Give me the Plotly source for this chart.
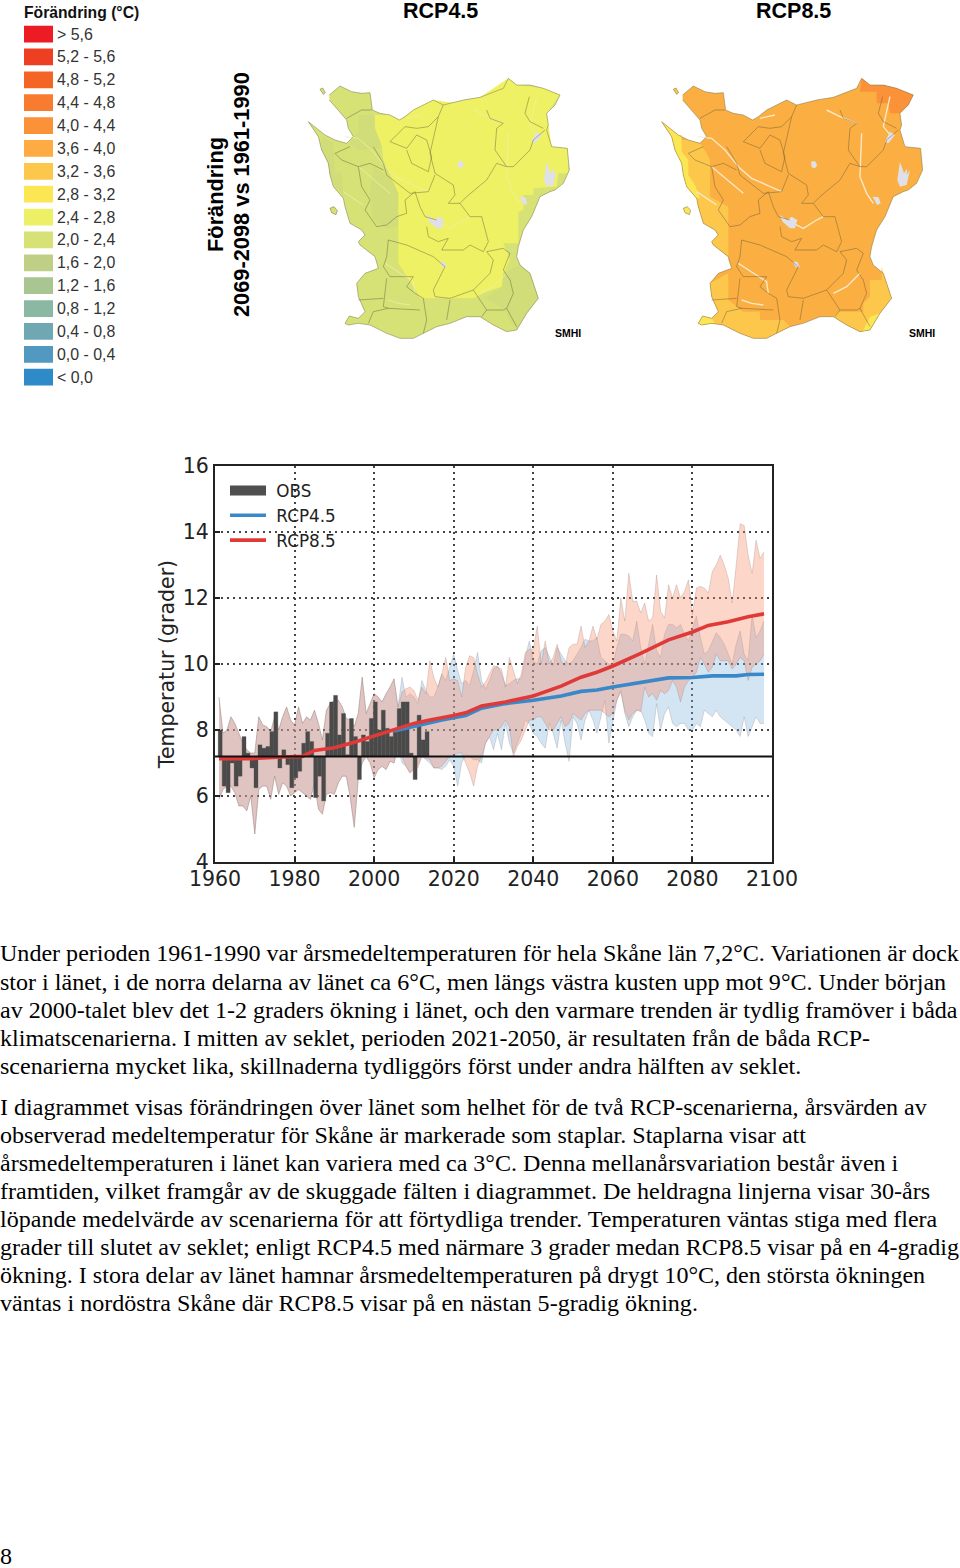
import plotly.graph_objects as go

W, H = 960, 1568

# ---------- colour legend ----------
scale_labels = ["> 5,6", "5,2 - 5,6", "4,8 - 5,2", "4,4 - 4,8", "4,0 - 4,4", "3,6 - 4,0", "3,2 - 3,6", "2,8 - 3,2",
                "2,4 - 2,8", "2,0 - 2,4", "1,6 - 2,0", "1,2 - 1,6", "0,8 - 1,2", "0,4 - 0,8", "0,0 - 0,4", "< 0,0"]
scale_colors = ["#ed1b23", "#ee3f22", "#f46425", "#f97b30", "#fb9138", "#fdab42", "#fdc74c", "#fce654",
                "#edf066", "#d6e176", "#bfd086", "#a9c591", "#8ab8a3", "#6fa7b3", "#5299c2", "#2e8bc7"]

# ---------- time series ----------
obs_values = [8.0, 6.3, 6.1, 7.0, 6.3, 6.6, 7.8, 7.3, 6.85, 6.25, 7.55, 7.45, 7.5, 7.95, 8.55, 6.85, 7.4, 6.95,
              6.25, 6.55, 6.75, 7.6, 7.95, 7.65, 5.95, 6.6, 5.85, 7.9, 8.85, 9.05, 7.85, 8.5, 7.25, 8.35, 7.8,
              6.5, 7.85, 7.65, 8.35, 8.85, 8.0, 8.6, 8.05, 7.8, 7.95, 8.65, 8.85, 8.85, 7.3, 6.5, 8.45, 7.7, 7.95]
hist_upper = [9.0, 7.9, 8.0, 8.4, 8.2, 7.9, 7.6, 7.4, 7.3, 7.3, 8.4, 8.15, 8.1, 7.95, 8.4, 8.0, 8.4, 8.7, 8.3, 8.15,
              8.7, 8.2, 8.4, 8.3, 8.6, 8.2, 7.7, 8.6, 8.8, 8.9, 8.9, 8.7, 8.35, 8.3, 8.1, 8.5, 9.6, 8.5, 8.8, 9.1,
              9.0, 8.85, 9.1, 9.3, 9.55, 8.7]
hist_lower = [5.9, 6.2, 6.3, 6.3, 6.1, 5.7, 5.7, 5.55, 6.0, 4.85, 6.2, 6.3, 6.3, 5.9, 6.6, 6.05, 6.4, 6.3, 6.0, 6.1,
              6.2, 6.1, 6.0, 5.9, 6.4, 5.6, 5.45, 6.05, 6.1, 6.05, 6.4, 6.6, 6.6, 5.95, 5.05, 6.5, 7.0, 7.2, 7.0,
              6.55, 6.8, 6.9, 6.8, 7.05, 7.0, 7.5]
rcp85_upper_future = [9.15, 9.25, 9.3, 9.2, 8.9, 9.3, 9.1, 10.1, 9.6, 9.3, 9.7, 10.2, 9.5, 9.55, 9.5, 9.0, 9.9, 10.25,
                      10.2, 9.7, 9.3, 9.45, 9.7, 9.95, 9.9, 9.85, 9.3, 10.2, 9.8, 9.4, 9.7, 10.35, 10.45, 10.45, 11.15,
                      10.0, 10.7, 10.0, 10.2, 10.6, 10.1, 9.95, 10.5, 10.6, 10.6, 11.15, 10.5, 10.7, 11.15, 10.75,
                      11.2, 11.3, 11.5, 11.0, 10.7, 12.0, 11.3, 12.75, 11.9, 11.9, 11.55, 11.85, 11.3, 11.4, 12.7,
                      11.6, 11.4, 12.4, 12.0, 12.4, 12.0, 12.2, 12.55, 11.5, 12.3, 12.35, 12.3, 12.15, 12.8, 13.0,
                      13.3, 13.0, 12.6, 11.85, 13.0, 14.25, 14.2, 13.3, 12.75, 13.75, 13.2, 13.4]
rcp85_lower_future = [7.2, 6.9, 6.7, 6.8, 6.85, 7.2, 7.15, 7.1, 6.85, 6.85, 6.9, 7.05, 7.2, 7.25, 7.3, 7.3, 7.0, 6.7,
                      6.3, 6.9, 7.2, 7.6, 7.8, 8.0, 8.0, 8.1, 8.3, 8.1, 7.2, 7.5, 7.7, 8.0, 8.3, 8.3, 8.4, 8.4, 8.2,
                      8.0, 8.0, 8.2, 8.4, 8.1, 8.2, 8.5, 8.4, 8.3, 8.5, 8.6, 8.6, 8.6, 8.6, 8.5, 8.4, 8.5, 8.9, 9.15,
                      8.6, 8.3, 8.5, 8.6, 8.55, 9.3, 9.0, 9.1, 8.9, 9.2, 9.1, 9.2, 9.5, 9.3, 8.85, 9.3, 9.5, 9.6, 9.75,
                      10.2, 10.0, 9.75, 9.9, 10.3, 10.1, 10.1, 10.1, 9.85, 10.0, 10.2, 10.1, 9.5, 9.9, 10.0, 10.1, 10.3]
rcp45_upper_future = [9.6, 9.0, 9.1, 9.0, 8.8, 9.5, 9.2, 9.0, 9.0, 9.3, 9.7, 9.5, 9.9, 10.3, 9.8, 9.4, 9.5, 9.35, 9.8,
                      10.35, 9.5, 9.25, 9.5, 9.85, 9.95, 9.7, 9.35, 9.4, 9.5, 9.55, 9.55, 10.2, 10.7, 10.1, 10.0, 10.4,
                      10.5, 10.2, 9.95, 10.5, 10.3, 10.1, 10.0, 10.1, 10.3, 10.5, 10.75, 10.7, 10.7, 10.8, 10.2, 10.1,
                      10.0, 10.0, 10.5, 10.9, 10.9, 10.85, 10.7, 11.3, 10.5, 10.0, 10.6, 11.2, 10.4, 10.2, 10.9, 11.2,
                      11.2, 11.1, 11.2, 10.9, 10.7, 11.1, 11.45, 10.8, 10.3, 10.4, 10.7, 10.95, 10.8, 10.6, 10.3, 10.0,
                      10.6, 11.0, 10.3, 10.1, 11.5, 10.8, 11.0, 11.3]
rcp45_lower_future = [7.0, 6.9, 6.7, 6.85, 6.95, 7.2, 7.1, 7.0, 6.85, 6.85, 6.8, 6.9, 7.1, 6.9, 6.3, 7.0, 7.25, 7.2, 7.1,
                      7.1, 7.0, 7.6, 7.8, 7.4, 7.9, 7.4, 8.2, 7.6, 7.3, 7.6, 7.9, 8.3, 8.2, 7.9, 7.8, 7.6, 7.45, 8.2,
                      7.9, 7.45, 8.3, 7.6, 7.05, 8.4, 8.2, 7.7, 8.3, 8.6, 8.3, 7.9, 8.4, 8.9, 7.6, 8.2, 8.9, 9.2, 8.5,
                      8.1, 8.4, 8.6, 8.6, 8.3, 7.9, 7.8, 8.8, 8.0, 8.5, 8.7, 8.2, 8.1, 8.2, 8.2, 8.0, 8.0, 8.2, 8.1,
                      8.6, 8.5, 8.4, 8.6, 8.4, 8.3, 8.2, 8.1, 8.0, 7.8, 8.4, 7.8, 8.1, 8.4, 8.2, 8.2]
rcp85_mean_years = [1961, 1969, 1977, 1981, 1982, 1985, 1990, 1995, 2000, 2005, 2010, 2014, 2017, 2020, 2023, 2027, 2033,
                    2040, 2047, 2052, 2056, 2060, 2067, 2074, 2080, 2084, 2089, 2094, 2098]
rcp85_mean = [7.13, 7.13, 7.18, 7.2, 7.2, 7.38, 7.46, 7.63, 7.82, 8.0, 8.2, 8.3, 8.36, 8.44, 8.52, 8.73, 8.85, 9.03,
              9.33, 9.6, 9.75, 9.94, 10.32, 10.73, 10.97, 11.17, 11.28, 11.43, 11.52]
rcp45_mean_years = [2005, 2010, 2014, 2017, 2020, 2023, 2027, 2033, 2040, 2047, 2052, 2056, 2060, 2067, 2074, 2080, 2085,
                    2091, 2094, 2098]
rcp45_mean = [7.97, 8.12, 8.22, 8.3, 8.37, 8.44, 8.66, 8.8, 8.9, 9.03, 9.17, 9.21, 9.3, 9.43, 9.58, 9.59, 9.64, 9.64,
              9.68, 9.69]
baseline_1961_1990 = 7.2

# ---------- map geometry (in map pixels x3) ----------
coast_x = [118, 150, 185, 215, 240, 247, 270, 300, 328, 345, 370, 400, 430, 460, 490, 520, 570, 600, 640, 655, 680, 720,
           760, 810, 795, 770, 775, 770, 785, 832, 838, 820, 795, 780, 750, 725, 700, 685, 680, 690, 720, 745, 710, 680,
           650, 610, 570, 530, 480, 440, 400, 370, 330, 290, 240, 205, 175, 165, 178, 205, 225, 205, 200, 225, 265, 255,
           210, 205, 225, 215, 180, 165, 160, 130, 120, 115, 95, 85, 55, 80, 105, 135, 170, 190, 175, 170, 118]
coast_y = [105, 78, 95, 100, 98, 150, 160, 165, 180, 170, 150, 135, 120, 135, 128, 120, 112, 100, 85, 55, 75, 75, 85, 105,
           135, 160, 195, 210, 260, 265, 330, 370, 390, 395, 410, 470, 510, 560, 590, 615, 640, 715, 760, 810, 815, 795,
           770, 770, 790, 800, 820, 835, 835, 820, 795, 790, 795, 790, 768, 775, 755, 710, 670, 640, 625, 590, 555, 545,
           525, 510, 490, 440, 415, 380, 345, 310, 270, 230, 185, 205, 225, 240, 250, 230, 205, 180, 120]
island_a_x = [90, 98, 106, 100, 90]
island_a_y = [88, 84, 98, 103, 88]
island_b_x = [120, 132, 142, 138, 125, 120]
island_b_y = [445, 440, 452, 464, 458, 445]

m1_core_x = [255, 300, 330, 370, 430, 490, 570, 655, 680, 760, 810, 770, 785, 832, 835, 805, 800, 730, 730, 700, 700, 685,
             685, 640, 660, 640, 635, 590, 550, 390, 370, 325, 325, 300, 280, 275, 255, 255]
m1_core_y = [165, 165, 180, 150, 120, 128, 112, 55, 75, 85, 105, 160, 260, 265, 340, 340, 380, 385, 405, 405, 450, 455,
             550, 550, 600, 640, 680, 695, 715, 715, 680, 610, 400, 345, 300, 255, 205, 165]
m1_dark_a_x = [95, 130, 135, 155, 160, 135, 120, 115, 95]
m1_dark_a_y = [230, 250, 335, 340, 405, 380, 345, 310, 270]
m1_dark_b_x = [205, 250, 255, 275, 270, 205, 180, 205]
m1_dark_b_y = [165, 165, 205, 215, 265, 270, 250, 215]
m1_dark_c_x = [250, 285, 300, 325, 325, 290, 250, 240]
m1_dark_c_y = [320, 345, 350, 400, 500, 505, 480, 400]
m1_dark_d_x = [640, 690, 720, 745, 710, 680, 660, 640, 585, 635]
m1_dark_d_y = [640, 615, 640, 715, 760, 810, 780, 745, 715, 680]

m2_light_w_x = [135, 170, 190, 200, 200, 255, 255, 265, 255, 210, 205, 225, 215, 180, 165, 160, 130, 120, 115, 95, 85, 115]
m2_light_w_y = [240, 250, 280, 300, 410, 440, 600, 625, 590, 555, 545, 525, 510, 490, 440, 415, 380, 345, 310, 270, 230, 240]
m2_light_sw_x = [200, 255, 255, 300, 350, 350, 420, 440, 400, 370, 330, 290, 240, 205, 175, 165, 178, 205, 225, 205]
m2_light_sw_y = [670, 640, 720, 755, 755, 780, 780, 800, 820, 835, 835, 820, 795, 790, 795, 790, 768, 775, 755, 710]
m2_light_se_x = [570, 585, 660, 660, 680, 680, 715, 715, 720, 745, 710, 680, 650, 610]
m2_light_se_y = [770, 755, 755, 730, 710, 660, 660, 620, 640, 715, 760, 810, 815, 795]
m2_yellow_a_x = [55, 80, 105, 115, 115, 135, 135, 155, 170, 160, 130, 120, 115, 95, 85]
m2_yellow_a_y = [185, 205, 225, 225, 275, 300, 345, 375, 415, 415, 380, 345, 310, 270, 230]
m2_yellow_b_x = [660, 680, 710, 680, 650]
m2_yellow_b_y = [810, 770, 760, 810, 815]
m2_yellow_c_x = [165, 178, 205, 215, 175]
m2_yellow_c_y = [790, 768, 775, 790, 795]
m2_hot_x = [655, 680, 720, 760, 810, 795, 770, 740, 735, 700, 700, 650]
m2_hot_y = [55, 75, 75, 85, 105, 135, 160, 160, 130, 130, 95, 95]

lake_shapes = [
    ([770, 782, 792, 790, 800, 790, 770, 762, 770], [305, 340, 325, 345, 330, 375, 380, 360, 305]),
    ([503, 515, 522, 515, 505, 503], [305, 303, 315, 325, 322, 305]),
    ([410, 432, 445, 462, 455, 440, 418, 410], [465, 480, 470, 480, 505, 505, 485, 465]),
    ([448, 462, 470, 458, 448], [605, 605, 622, 622, 605]),
    ([688, 706, 712, 702, 688], [410, 412, 430, 436, 410]),
    ([740, 755, 735, 725, 740], [215, 225, 250, 245, 215]),
]
road_lines = [
    ([165, 205, 245, 290, 325, 370, 415], [230, 235, 270, 325, 355, 375, 395]),
    ([205, 240, 300], [320, 350, 400]),
    ([655, 650, 670, 690], [220, 350, 400, 430]),
    ([450, 480, 520, 540], [490, 505, 480, 470]),
    ([285, 330, 370, 375], [610, 640, 665, 700]),
    ([295, 325, 360], [720, 730, 735]),
    ([570, 610, 650], [700, 680, 640]),
    ([350, 395], [175, 165]),
    ([550, 590, 640], [150, 170, 190]),
    ([740, 720, 745], [110, 200, 230]),
    ([160, 220], [395, 435]),
]
border_lines = [
    ([170, 215, 245], [175, 150, 150]),
    ([300, 345, 380, 415, 445, 460], [245, 200, 205, 200, 170, 135]),
    ([445, 420, 435, 490, 495, 475, 510, 540], [170, 280, 340, 375, 405, 430, 430, 470]),
    ([300, 350, 380, 410, 425, 415, 365, 350], [245, 265, 225, 240, 290, 335, 310, 270]),
    ([590, 600, 640, 620, 615, 650, 620, 590, 530, 510], [150, 175, 190, 205, 270, 320, 310, 360, 410, 430]),
    ([718, 705, 720, 760], [110, 160, 185, 205]),
    ([765, 730, 720, 700, 670, 650], [210, 240, 270, 290, 320, 320]),
    ([250, 280, 290, 360, 415, 435], [260, 310, 345, 400, 395, 345]),
    ([180, 135, 155, 205, 240, 280], [260, 280, 300, 320, 310, 330]),
    ([205, 215, 240, 225, 260, 290, 320, 350, 345, 375], [320, 380, 420, 450, 500, 495, 470, 460, 420, 395]),
    ([375, 390, 405, 440], [395, 440, 470, 480]),
    ([410, 415, 445, 475, 455, 520, 540, 580, 595, 575, 540], [500, 530, 545, 535, 570, 570, 555, 575, 545, 470, 470]),
    ([295, 350, 430, 465, 430, 435, 480, 550, 600, 610, 590, 640, 660, 640, 660, 670, 650, 680],
     [540, 555, 590, 620, 690, 710, 715, 690, 640, 600, 575, 565, 580, 630, 660, 700, 745, 800]),
    ([295, 290, 280, 300, 370, 350, 375, 400, 410, 400], [540, 590, 620, 650, 650, 680, 700, 715, 780, 820]),
    ([290, 285, 280, 295, 250, 235], [655, 700, 740, 745, 755, 790]),
    ([280, 205], [715, 720]),
    ([295, 390], [745, 750]),
    ([480, 470], [720, 780]),
    ([550, 590, 640, 650], [690, 750, 750, 745]),
    ([590, 575], [750, 770]),
]

# ---------- page text ----------
heading_left, heading_right = "RCP4.5", "RCP8.5"
map_side_titles = ["Förändring", "2069-2098 vs 1961-1990"]
para_lines = [
    "Under perioden 1961-1990 var årsmedeltemperaturen för hela Skåne län 7,2°C. Variationen är dock",
    "stor i länet, i de norra delarna av länet ca 6°C, men längs västra kusten upp mot 9°C. Under början",
    "av 2000-talet blev det 1-2 graders ökning i länet, och den varmare trenden är tydlig framöver i båda",
    "klimatscenarierna. I mitten av seklet, perioden 2021-2050, är resultaten från de båda RCP-",
    "scenarierna mycket lika, skillnaderna tydliggörs först under andra hälften av seklet.",
    "I diagrammet visas förändringen över länet som helhet för de två RCP-scenarierna, årsvärden av",
    "observerad medeltemperatur för Skåne är markerade som staplar. Staplarna visar att",
    "årsmedeltemperaturen i länet kan variera med ca 3°C. Denna mellanårsvariation består även i",
    "framtiden, vilket framgår av de skuggade fälten i diagrammet. De heldragna linjerna visar 30-års",
    "löpande medelvärde av scenarierna för att förtydliga trender. Temperaturen väntas stiga med flera",
    "grader till slutet av seklet; enligt RCP4.5 med närmare 3 grader medan RCP8.5 visar på en 4-gradig",
    "ökning. I stora delar av länet hamnar årsmedeltemperaturen på drygt 10°C, den största ökningen",
    "väntas i nordöstra Skåne där RCP8.5 visar på en nästan 5-gradig ökning.",
]
para_centers = [953, 982, 1010, 1038, 1066, 1107, 1135, 1163, 1191, 1219, 1247, 1275, 1303]
BODY_SIZE = 24.05


def dx(a, b):
    return [a / W, b / W]


def dy(top, bottom):
    return [1 - bottom / H, 1 - top / H]


fig = go.Figure()

# --- main time-series chart: bands on the base axes, bars and mean lines on an overlay above them ---
obs_years = list(range(1961, 1961 + len(obs_values)))
x45 = list(range(1961, 1961 + len(hist_upper) + len(rcp45_upper_future)))
x85 = list(range(1961, 1961 + len(hist_upper) + len(rcp85_upper_future)))
EDGE = dict(color="rgba(130,110,110,0.30)", width=0.8)
fig.add_trace(go.Scatter(x=x45, y=hist_lower + rcp45_lower_future, mode="lines", line=EDGE, showlegend=False, hoverinfo="skip"))
fig.add_trace(go.Scatter(x=x45, y=hist_upper + rcp45_upper_future, mode="lines", line=EDGE, fill="tonexty",
                         fillcolor="rgba(129,178,221,0.35)", showlegend=False, hoverinfo="skip"))
fig.add_trace(go.Scatter(x=x85, y=hist_lower + rcp85_lower_future, mode="lines", line=EDGE, showlegend=False, hoverinfo="skip"))
fig.add_trace(go.Scatter(x=x85, y=hist_upper + rcp85_upper_future, mode="lines", line=EDGE, fill="tonexty",
                         fillcolor="rgba(247,138,101,0.35)", showlegend=False, hoverinfo="skip"))
fig.add_trace(go.Bar(x=obs_years, y=[v - baseline_1961_1990 for v in obs_values], base=baseline_1961_1990, width=1,
                     offset=-0.2, xaxis="x5", yaxis="y5",
                     marker=dict(color="#4a4a4a", line=dict(width=0.3, color="#4a4a4a")), showlegend=False))
fig.add_trace(go.Scatter(x=[None], y=[None], name="\u00a0OBS", mode="lines", line=dict(color="#4f4f4f", width=14),
                         xaxis="x5", yaxis="y5", legendgroup="a"))
fig.add_trace(go.Scatter(x=rcp45_mean_years, y=rcp45_mean, name="\u00a0RCP4.5", mode="lines", xaxis="x5", yaxis="y5",
                         line=dict(color="#3b88c9", width=3.6), legendgroup="b"))
fig.add_trace(go.Scatter(x=rcp85_mean_years, y=rcp85_mean, name="\u00a0RCP8.5", mode="lines", xaxis="x5", yaxis="y5",
                         line=dict(color="#e03a38", width=3.6), legendgroup="c"))
fig.add_shape(type="line", xref="x domain", yref="y", x0=0, x1=1, y0=baseline_1961_1990, y1=baseline_1961_1990,
              line=dict(color="#111111", width=2))

# --- maps ---
def add_poly(xa, ya, xs, ys, color):
    fig.add_trace(go.Scatter(x=xs, y=ys, xaxis=xa, yaxis=ya, mode="lines", fill="toself", fillcolor=color,
                             line=dict(width=0, color=color), showlegend=False, hoverinfo="skip"))


def add_line(xa, ya, xs, ys, color, width):
    fig.add_trace(go.Scatter(x=xs, y=ys, xaxis=xa, yaxis=ya, mode="lines", line=dict(color=color, width=width),
                             showlegend=False, hoverinfo="skip"))


def add_common(xa, ya, road_color, road_w):
    for xs, ys in road_lines:
        add_line(xa, ya, xs, ys, road_color, road_w)
    for xs, ys in lake_shapes:
        add_poly(xa, ya, xs, ys, "#dfe0e8")
    for xs, ys in border_lines:
        add_line(xa, ya, xs, ys, "rgba(90,85,55,0.7)", 0.6)
    add_line(xa, ya, coast_x, coast_y, "rgba(120,115,70,0.7)", 0.7)
    add_line(xa, ya, island_a_x, island_a_y, "rgba(120,115,70,0.8)", 0.7)
    add_line(xa, ya, island_b_x, island_b_y, "rgba(120,115,70,0.8)", 0.7)


# map 1 RCP4.5
add_poly("x2", "y2", coast_x, coast_y, "#d6e176")
add_poly("x2", "y2", island_a_x, island_a_y, "#d6e176")
add_poly("x2", "y2", island_b_x, island_b_y, "#d6e176")
for xs, ys in [(m1_dark_a_x, m1_dark_a_y), (m1_dark_b_x, m1_dark_b_y), (m1_dark_c_x, m1_dark_c_y), (m1_dark_d_x, m1_dark_d_y)]:
    add_poly("x2", "y2", xs, ys, "#d0dd78")
add_poly("x2", "y2", m1_core_x, m1_core_y, "#eef163")
add_common("x2", "y2", "rgba(238,240,170,0.8)", 1.0)

# map 2 RCP8.5
add_poly("x3", "y3", coast_x, coast_y, "#fbae42")
add_poly("x3", "y3", island_a_x, island_a_y, "#fdc74c")
add_poly("x3", "y3", island_b_x, island_b_y, "#fce654")
add_poly("x3", "y3", m2_light_w_x, m2_light_w_y, "#fdc74c")
add_poly("x3", "y3", m2_light_sw_x, m2_light_sw_y, "#fdc74c")
add_poly("x3", "y3", m2_light_se_x, m2_light_se_y, "#fdc74c")
add_poly("x3", "y3", m2_yellow_a_x, m2_yellow_a_y, "#fce654")
add_poly("x3", "y3", m2_yellow_b_x, m2_yellow_b_y, "#fce654")
add_poly("x3", "y3", m2_yellow_c_x, m2_yellow_c_y, "#fce654")
add_poly("x3", "y3", m2_hot_x, m2_hot_y, "#fb9138")
add_common("x3", "y3", "rgba(250,235,205,0.95)", 1.4)

# --- colour scale as a bar chart ---
fig.add_trace(go.Bar(x=[1] * len(scale_labels), y=scale_labels, orientation="h", xaxis="x4", yaxis="y4",
                     marker=dict(color=scale_colors, line=dict(width=0)), showlegend=False, width=0.73))

LIB = "Liberation Sans"
annots = [
    dict(text="<b>" + heading_left + "</b>", x=440 / W, y=1 - 11 / H, font=dict(family=LIB, size=21.5, color="#000"),
         xanchor="center", yanchor="middle"),
    dict(text="<b>" + heading_right + "</b>", x=793 / W, y=1 - 11 / H, font=dict(family=LIB, size=21.5, color="#000"),
         xanchor="center", yanchor="middle"),
    dict(text="<b>Förändring (°C)</b>", x=24 / W, y=1 - 12 / H, font=dict(family=LIB, size=15.7, color="#111"),
         xanchor="left", yanchor="middle"),
    dict(text="<b>" + map_side_titles[0] + "</b>", x=215 / W, y=1 - 195 / H, textangle=-90,
         font=dict(family=LIB, size=21.8, color="#000"), xanchor="center", yanchor="middle"),
    dict(text="<b>" + map_side_titles[1] + "</b>", x=241 / W, y=1 - 195 / H, textangle=-90,
         font=dict(family=LIB, size=21.8, color="#000"), xanchor="center", yanchor="middle"),
    dict(text="<b>SMHI</b>", x=568 / W, y=1 - 333 / H, font=dict(family=LIB, size=10.5, color="#000"),
         xanchor="center", yanchor="middle"),
    dict(text="<b>SMHI</b>", x=921.5 / W, y=1 - 333 / H, font=dict(family=LIB, size=10.5, color="#000"),
         xanchor="center", yanchor="middle"),
    dict(text="8", x=0, y=1 - 1556 / H, font=dict(family="Liberation Serif", size=BODY_SIZE, color="#000"),
         xanchor="left", yanchor="middle"),
]
for line, cy in zip(para_lines, para_centers):
    annots.append(dict(text=line, x=0, y=1 - cy / H, xanchor="left", yanchor="middle",
                       font=dict(family="Liberation Serif", size=BODY_SIZE, color="#000")))
for a in annots:
    a.update(xref="paper", yref="paper", showarrow=False, borderpad=0, borderwidth=0)

FONT_M = dict(family="DejaVu Sans", size=20.5, color="#222")
blank = dict(visible=False, showgrid=False, zeroline=False)
MAP_RANGE_X = [0, 900]
MAP_RANGE_Y = [870, 0]

fig.update_layout(
    width=W, height=H, autosize=False, margin=dict(l=0, r=0, t=0, b=0, pad=0, autoexpand=False),
    paper_bgcolor="white", plot_bgcolor="rgba(0,0,0,0)",
    font=dict(family="DejaVu Sans", color="#222"), barmode="overlay", annotations=annots,
    xaxis=dict(domain=dx(215, 772), range=[1960, 2100], tickvals=list(range(1960, 2101, 20)), ticks="inside", ticklen=5,
               tickcolor="#222", tickwidth=1.5, showgrid=True, gridcolor="#444", griddash="2px,4px", gridwidth=1.5,
               showline=True, linecolor="#222", linewidth=2, mirror=True, zeroline=False, tickfont=FONT_M, anchor="y",
               ticklabelstandoff=-3),
    yaxis=dict(domain=dy(466, 862), range=[4, 16], tickvals=list(range(4, 17, 2)), ticks="inside", ticklen=5,
               tickcolor="#222", tickwidth=1.5, showgrid=True, gridcolor="#444", griddash="2px,4px", gridwidth=1.5,
               showline=True, linecolor="#222", linewidth=2, mirror=True, zeroline=False, tickfont=FONT_M, anchor="x",
               title=dict(text="Temperatur (grader)", font=FONT_M, standoff=3)),
    xaxis5=dict(overlaying="x", range=[1960, 2100], anchor="y5", visible=False),
    yaxis5=dict(overlaying="y", range=[4, 16], anchor="x5", visible=False),
    xaxis2=dict(domain=dx(290, 590), range=MAP_RANGE_X, anchor="y2", **blank),
    yaxis2=dict(domain=dy(60, 350), range=MAP_RANGE_Y, anchor="x2", **blank),
    xaxis3=dict(domain=dx(643.3, 943.3), range=MAP_RANGE_X, anchor="y3", **blank),
    yaxis3=dict(domain=dy(60, 350), range=MAP_RANGE_Y, anchor="x3", **blank),
    xaxis4=dict(domain=dx(24, 53), range=[0, 1], anchor="y4", **blank),
    yaxis4=dict(domain=dy(22.6, 388.6), autorange="reversed", anchor="x4", side="right", showgrid=False, zeroline=False,
                showline=False, ticks="", tickfont=dict(family=LIB, size=15.9, color="#333"), ticklabelstandoff=3),
    legend=dict(x=225 / W, y=1 - 473 / H, xanchor="left", yanchor="top", bgcolor="rgba(0,0,0,0)", borderwidth=0,
                font=dict(family="DejaVu Sans", size=16.8, color="#222"), itemwidth=36, tracegroupgap=4, traceorder="normal"),
)
# the page's default 8px body margin would shift and crop the figure
fig.write_html("out.html", post_script="document.body.style.margin='0';", config={"displayModeBar": False})
